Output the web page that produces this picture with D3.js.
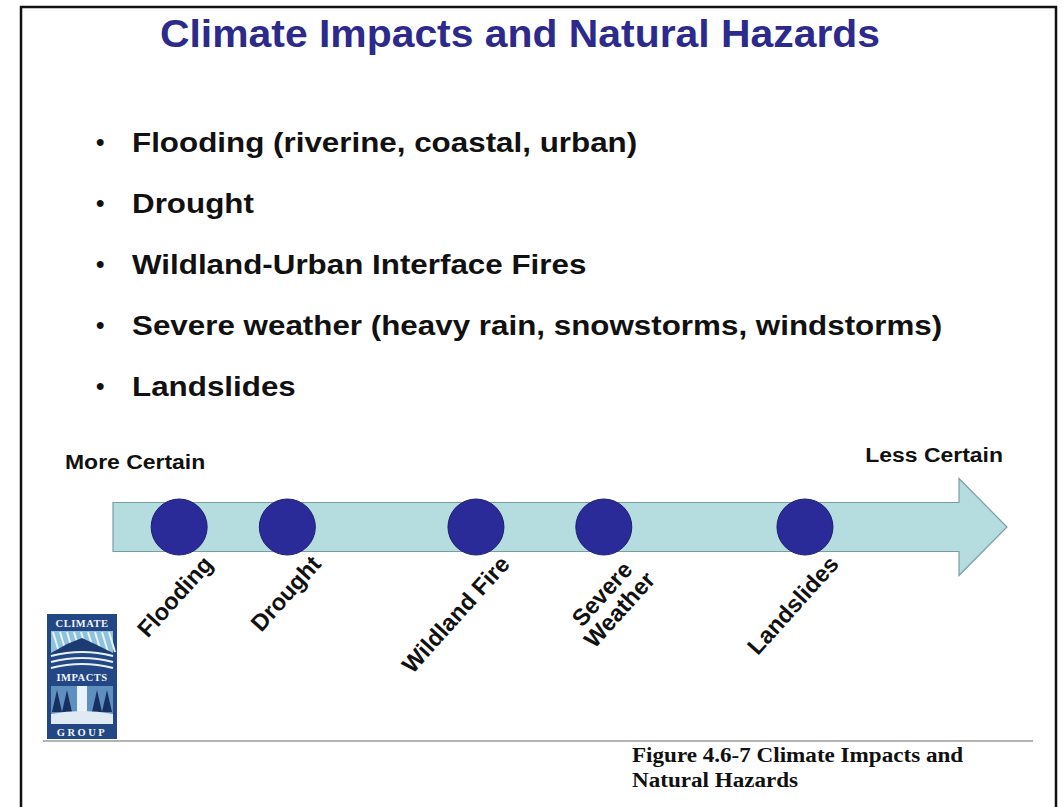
<!DOCTYPE html>
<html>
<head>
<meta charset="utf-8">
<script src="https://cdn.jsdelivr.net/npm/d3@7"></script>
<style>
  html, body { margin: 0; padding: 0; background: #fff; }
  svg { display: block; }
</style>
</head>
<body>
<svg id="chart" width="1064" height="807"></svg>
<script>
// ---- data ----
const titleText = "Climate Impacts and Natural Hazards";
const bulletItems = [
  "Flooding (riverine, coastal, urban)",
  "Drought",
  "Wildland-Urban Interface Fires",
  "Severe weather (heavy rain, snowstorms, windstorms)",
  "Landslides"
];
const hazards = ["Flooding", "Drought", "Wildland Fire", "Severe\nWeather", "Landslides"];
// position along the certainty axis (0 = more certain, 100 = less certain)
const certainty = [7.4, 19.5, 40.6, 54.9, 77.4];
const axisEnds = ["More Certain", "Less Certain"];
const captionLines = ["Figure 4.6-7 Climate Impacts and", "Natural Hazards"];
const logoWords = ["CLIMATE", "IMPACTS", "GROUP"];

// ---- drawing ----
const svg = d3.select("#chart");
const W = 1064, H = 807;
const sans = "'Liberation Sans', Arial, Helvetica, sans-serif";
const serif = "'Liberation Serif', 'Times New Roman', serif";

svg.append("rect").attr("width", W).attr("height", H).attr("fill", "#fff");

// frame
svg.append("path")
  .attr("d", `M21,${H + 5} L21,7 L1056,7 L1056,${H + 5}`)
  .attr("fill", "none").attr("stroke", "#111").attr("stroke-width", 2.5);

// title
svg.append("text")
  .attr("x", 520).attr("y", 47)
  .attr("text-anchor", "middle")
  .attr("font-family", sans).attr("font-weight", "bold")
  .attr("font-size", 38)
  .attr("textLength", 720).attr("lengthAdjust", "spacingAndGlyphs")
  .attr("fill", "#2c2a8c")
  .text(titleText);

// bullet list (the source slide is slightly stretched horizontally)
const yBullet = d3.scalePoint().domain(d3.range(bulletItems.length)).range([152, 396]);
const bl = svg.append("g").selectAll("g").data(bulletItems).join("g")
  .attr("transform", (d, i) => `translate(0,${yBullet(i)})`);
bl.append("text").attr("x", 96).attr("y", -2)
  .attr("font-family", sans).attr("font-weight", "bold").attr("font-size", 24)
  .attr("fill", "#111").text("•");
bl.append("g").attr("transform", "translate(132,0) scale(1.12,1)")
  .append("text").attr("x", 0).attr("y", 0)
  .attr("font-family", sans).attr("font-weight", "bold").attr("font-size", 28)
  .attr("fill", "#111").text(d => d);

// certainty axis scale
const x = d3.scaleLinear().domain([0, 100]).range([113, 1007]);
const yMid = 527, bodyHalf = 24.5, headHalf = 48.5, headLen = 48;

// arrow
const arrowPts = [
  [x(0), yMid - bodyHalf], [x(100) - headLen, yMid - bodyHalf], [x(100) - headLen, yMid - headHalf],
  [x(100), yMid], [x(100) - headLen, yMid + headHalf], [x(100) - headLen, yMid + bodyHalf],
  [x(0), yMid + bodyHalf]
];
svg.append("path")
  .attr("d", d3.line()(arrowPts) + "Z")
  .attr("fill", "#b5dde0").attr("stroke", "#7a9ea0").attr("stroke-width", 1.2);

// end labels
svg.append("g").attr("transform", "translate(65,469) scale(1.12,1)")
  .append("text")
  .attr("font-family", sans).attr("font-weight", "bold").attr("font-size", 20.5)
  .attr("fill", "#111").text(axisEnds[0]);
svg.append("g").attr("transform", "translate(1003,462) scale(1.12,1)")
  .append("text").attr("text-anchor", "end")
  .attr("font-family", sans).attr("font-weight", "bold").attr("font-size", 20.5)
  .attr("fill", "#111").text(axisEnds[1]);

// circles
const pts = hazards.map((h, i) => ({ name: h, v: certainty[i] }));
svg.append("g").selectAll("circle").data(pts).join("circle")
  .attr("cx", d => x(d.v)).attr("cy", yMid).attr("r", 28)
  .attr("fill", "#2a2a98").attr("stroke", "#1e1e6e").attr("stroke-width", 1);

// rotated hazard labels
const labelFont = 23.5;
const lg = svg.append("g").selectAll("g").data(pts).join("g")
  .attr("transform", d => `translate(${x(d.v) + 35},565) rotate(-48)`);
lg.each(function (d) {
  const g = d3.select(this);
  const lines = d.name.split("\n");
  const t = g.append("text")
    .attr("font-family", sans).attr("font-weight", "bold").attr("font-size", labelFont)
    .attr("fill", "#111").attr("text-anchor", "middle");
  const spans = lines.map((ln, k) =>
    t.append("tspan").attr("x", 0).attr("y", k * labelFont * 1.0).text(ln));
  const maxW = d3.max(spans, s => s.node().getComputedTextLength());
  spans.forEach(s => s.attr("x", -maxW / 2));
});

// logo
const logo = svg.append("g").attr("transform", "translate(47,614)");
logo.append("rect").attr("width", 70).attr("height", 125).attr("fill", "#234785");
logo.append("rect").attr("x", 4).attr("y", 17).attr("width", 62).attr("height", 22).attr("fill", "#8fc3dc");
logo.append("g").selectAll("line").data(d3.range(9)).join("line")
  .attr("x1", d => 6 + d * 7).attr("y1", 18).attr("x2", d => 12 + d * 7).attr("y2", 38)
  .attr("stroke", "#e6f3fa").attr("stroke-width", 2);
logo.append("path").attr("d", "M4,39 L20,30 L35,24 L50,31 L66,39 Z").attr("fill", "#1d3b73");
logo.append("path").attr("d", "M4,42 Q35,34 66,42 M4,48 Q35,40 66,48 M4,54 Q35,46 66,54")
  .attr("fill", "none").attr("stroke", "#e8f1f6").attr("stroke-width", 2.2);
logo.append("rect").attr("x", 4).attr("y", 72).attr("width", 62).attr("height", 38).attr("fill", "#5f8fbf");
logo.append("rect").attr("x", 30).attr("y", 72).attr("width", 10).attr("height", 38).attr("fill", "#e9f2f8");
logo.append("g").selectAll("path").data([10, 20, 50, 60]).join("path")
  .attr("d", d => `M${d},76 L${d - 5},98 L${d + 5},98 Z`).attr("fill", "#163062");
logo.append("path").attr("d", "M4,100 Q35,94 66,100 L66,110 L4,110 Z").attr("fill", "#dfeaf2");
logo.append("g").selectAll("text").data(logoWords).join("text")
  .attr("x", 35).attr("y", (d, i) => [13, 67, 122][i])
  .attr("text-anchor", "middle")
  .attr("font-family", serif).attr("font-weight", "bold").attr("font-size", 10.5)
  .attr("letter-spacing", (d, i) => i === 2 ? 2.5 : 0.5)
  .attr("fill", "#f2f6fa").text(d => d);

// separator line
svg.append("line").attr("x1", 43).attr("x2", 1033).attr("y1", 741).attr("y2", 741)
  .attr("stroke", "#9a9a9a").attr("stroke-width", 1.5);

// caption
svg.append("g").attr("transform", "translate(632,0) scale(1.1,1)")
  .selectAll("text").data(captionLines).join("text")
  .attr("x", 0).attr("y", (d, i) => 762 + i * 25)
  .attr("font-family", serif).attr("font-weight", "bold").attr("font-size", 21)
  .attr("fill", "#111").text(d => d);
</script>
</body>
</html>
